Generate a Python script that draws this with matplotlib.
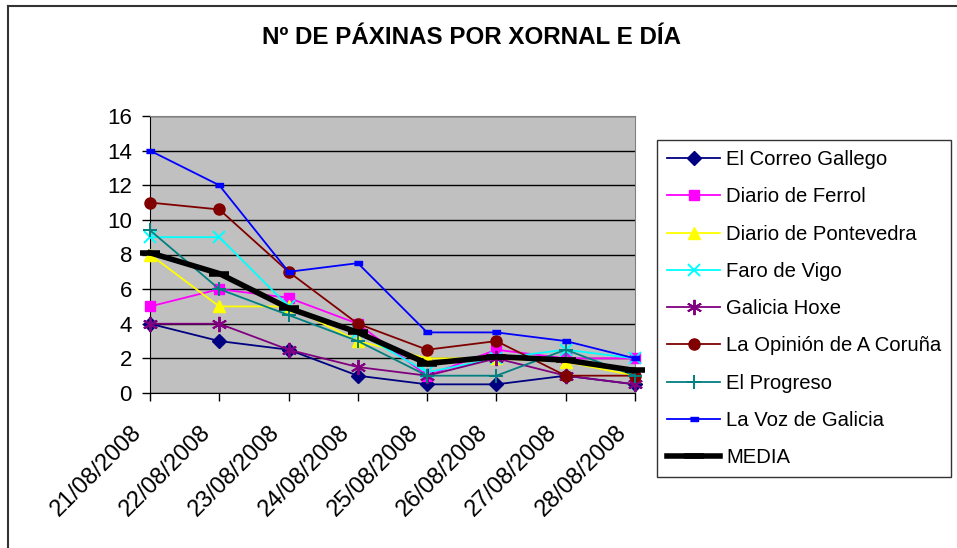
import matplotlib
matplotlib.use("Agg")
import matplotlib.pyplot as plt
import matplotlib.transforms as mtransforms
from matplotlib.lines import Line2D

plt.rcParams["font.family"] = ["Liberation Sans", "DejaVu Sans"]

# datos
dias = ["21/08/2008", "22/08/2008", "23/08/2008", "24/08/2008",
        "25/08/2008", "26/08/2008", "27/08/2008", "28/08/2008"]
correo = [4, 3, 2.5, 1, 0.5, 0.5, 1, 0.5]
ferrol = [5, 6, 5.5, 4, 1, 2.5, 2, 2]
pontevedra = [8, 5, 5, 3, 2, 2, 1.8, 1]
faro = [9, 9, 5, 3.5, 1.2, 2, 2.5, 2]
hoxe = [4, 4, 2.5, 1.5, 1, 2, 1, 0.5]
opinion = [11, 10.6, 7, 4, 2.5, 3, 1, 1]
progreso = [9.4, 6, 4.5, 3, 1, 1, 2.5, 1]
voz = [14, 12, 7, 7.5, 3.5, 3.5, 3, 2]
media = [8.1, 6.9, 4.9, 3.5, 1.7, 2.1, 1.9, 1.3]

rect = [(-1, -0.45), (1, -0.45), (1, 0.45), (-1, 0.45)]
estilos = [
    ("El Correo Gallego", correo, "#000080", "D", 7, 1),
    ("Diario de Ferrol", ferrol, "#FF00FF", "s", 7.5, 1),
    ("Diario de Pontevedra", pontevedra, "#FFFF00", "^", 8.5, 1),
    ("Faro de Vigo", faro, "#00FFFF", "x", 9, 1.4),
    ("Galicia Hoxe", hoxe, "#800080", (6, 2, 0), 11, 1.4),
    ("La Opinión de A Coruña", opinion, "#800000", "o", 8, 1),
    ("El Progreso", progreso, "#008080", "+", 10, 1.4),
    ("La Voz de Galicia", voz, "#0000FF", rect, 6, 1),
]

fig = plt.figure(figsize=(9.57, 5.48), dpi=100)
ax = fig.add_axes([150 / 957, 1 - 393 / 548, 485 / 957, 277 / 548])
ax.set_facecolor("#C0C0C0")

x = list(range(len(dias)))
for nome, vals, cor, mk, ms, mew in estilos:
    ax.plot(x, vals, color=cor, lw=1.3, marker=mk, ms=ms, mew=mew,
            mfc=cor, mec=cor, label=nome, clip_on=False, zorder=3)
ax.plot(x, media, color="black", lw=4, marker="_", ms=14, mew=4,
        label="MEDIA", clip_on=False, zorder=4)

ax.set_xlim(0, 7)
ax.set_ylim(0, 16)
ax.set_yticks(range(0, 17, 2))
ax.set_xticks(x)
ax.set_xticklabels(dias, rotation=45, ha="right", va="center",
                   rotation_mode="anchor")
ax.tick_params(axis="both", labelsize=16, direction="out", length=6,
               width=1, color="black")
ax.tick_params(axis="x", labelsize=17, pad=20)
ax.tick_params(axis="y", pad=7)
desprazamento = mtransforms.ScaledTranslation(-12 / 100, 0, fig.dpi_scale_trans)
for lab in ax.get_xticklabels():
    lab.set_transform(lab.get_transform() + desprazamento)
ax.grid(axis="y", color="black", lw=1)
ax.set_axisbelow(True)
for s in ["top", "right"]:
    ax.spines[s].set_color("#808080")
for s in ["left", "bottom"]:
    ax.spines[s].set_color("black")

fig.text(471 / 957, 1 - 38 / 548, "Nº DE PÁXINAS POR XORNAL E DÍA",
         ha="center", va="center", fontsize=17.4, fontweight="bold")

leg = fig.legend(loc="upper left", bbox_to_anchor=(657 / 957, 1 - 140 / 548),
                 fontsize=14.6, frameon=True, fancybox=False,
                 edgecolor="black", borderaxespad=0, labelspacing=0.9,
                 handlelength=2.6, handletextpad=0.3, borderpad=0.5)
leg.get_frame().set_linewidth(1)

# marco exterior
fig.add_artist(Line2D([8 / 957, 8 / 957], [0, 1 - 6 / 548], color="#333333",
                      lw=1.5, transform=fig.transFigure))
fig.add_artist(Line2D([8 / 957, 1], [1 - 6 / 548, 1 - 6 / 548], color="#333333",
                      lw=1.5, transform=fig.transFigure))

fig.savefig("out.png", dpi=100)
